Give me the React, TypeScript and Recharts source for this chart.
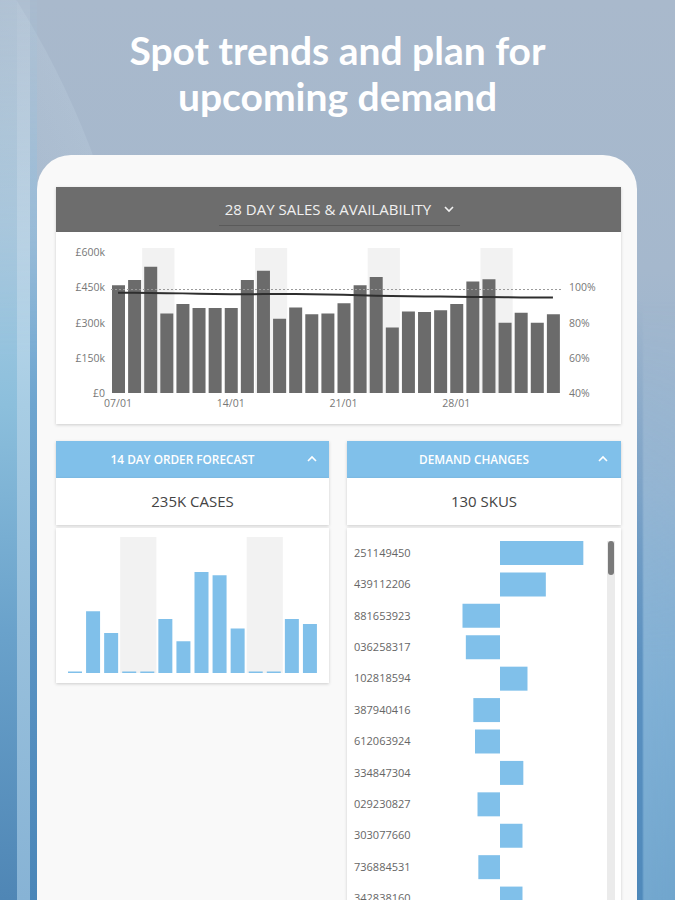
import React from 'react';
import {
  ComposedChart,
  BarChart,
  Bar,
  Line,
  XAxis,
  YAxis,
  ReferenceArea,
  ReferenceLine,
} from 'recharts';

// ---------- data ----------
const salesDates = [
  '07/01', '08/01', '09/01', '10/01', '11/01', '12/01', '13/01',
  '14/01', '15/01', '16/01', '17/01', '18/01', '19/01', '20/01',
  '21/01', '22/01', '23/01', '24/01', '25/01', '26/01', '27/01',
  '28/01', '29/01', '30/01', '31/01', '01/02', '02/02', '03/02',
];
const salesValues = [
  461, 483, 540, 340, 381, 363, 363,
  363, 483, 523, 317, 366, 337, 340,
  384, 461, 496, 280, 349, 346, 354,
  381, 477, 486, 300, 343, 300, 337,
];
const availabilityValues = [
  97.2, 97.1, 97.0, 96.9, 96.8, 96.6, 96.4,
  96.3, 96.3, 96.4, 96.4, 96.4, 96.3, 96.2,
  96.0, 95.7, 95.5, 95.3, 95.1, 95.0, 95.0,
  94.9, 94.8, 94.7, 94.6, 94.5, 94.5, 94.4,
];
const salesShaded = [
  ['09/01', '10/01'],
  ['16/01', '17/01'],
  ['23/01', '24/01'],
  ['30/01', '31/01'],
];
const salesTicks = [0, 150, 300, 450, 600];
const availTicks = [40, 60, 80, 100];
const availTarget = 99;

const forecastDays = [
  '04/02', '05/02', '06/02', '07/02', '08/02', '09/02', '10/02',
  '11/02', '12/02', '13/02', '14/02', '15/02', '16/02', '17/02',
];
const forecastValues = [0.7, 27.2, 17.6, 0.7, 0.7, 23.8, 14.0, 44.6, 43.1, 19.6, 0.7, 0.7, 23.8, 21.6];
const forecastShaded = [
  ['07/02', '08/02'],
  ['14/02', '15/02'],
];

const skuLabels = [
  '251149450', '439112206', '881653923', '036258317', '102818594', '387940416',
  '612063924', '334847304', '029230827', '303077660', '736884531', '342838160',
];
const demandValues = [100, 55, -45, -41, 33, -32, -30, 28, -27, 27, -26, 27];

// ---------- tables ----------
const salesData = salesDates.map((d, i) => ({ date: d, sales: salesValues[i], avail: availabilityValues[i] }));
const forecastData = forecastDays.map((d, i) => ({ day: d, cases: forecastValues[i] }));
const demandData = skuLabels.map((s, i) => ({ sku: s, change: demandValues[i] }));

const FONT = '"Open Sans", "Noto Sans", sans-serif';
const GREY_BAR = '#6b6b6b';
const BLUE = '#80c0ea';
const SHADE = '#f2f2f2';
const TICK = { fontSize: 10.5, fill: '#777777', fontFamily: FONT };

const cardShadow = '0 1px 3px rgba(0,0,0,0.18)';

const ChevronDown = ({ x, y }: { x: number; y: number }) => (
  <svg style={{ position: 'absolute', left: x, top: y }} width={10} height={7}>
    <polyline points="1,1 5,5 9,1" fill="none" stroke="#f2f2f2" strokeWidth={1.6} />
  </svg>
);
const ChevronUp = ({ x, y }: { x: number; y: number }) => (
  <svg style={{ position: 'absolute', left: x, top: y }} width={10} height={7}>
    <polyline points="1,6 5,2 9,6" fill="none" stroke="#ffffff" strokeWidth={1.6} />
  </svg>
);

const SkuTick = (props: any) => {
  const { y, payload } = props;
  return (
    <text x={7} y={y} dy={4} fontSize={11} fill="#666" fontFamily={FONT} textAnchor="start">
      {payload.value}
    </text>
  );
};

const stripeMask = 'linear-gradient(180deg, rgba(0,0,0,0.15) 0%, rgba(0,0,0,0.6) 20%, black 40%)';

export default function App() {
  return (
    <div
      style={{
        position: 'absolute',
        left: 0,
        top: 0,
        width: 675,
        height: 900,
        overflow: 'hidden',
        fontFamily: FONT,
        background:
          'linear-gradient(180deg, #a9b9cc 0%, #a5b8cd 30%, #93b2d0 55%, #74a6cf 78%, #6199c5 100%)',
      }}
    >
      {/* light arc top-left */}
      <div
        style={{
          position: 'absolute',
          left: -700 - 846,
          top: 450 - 846,
          width: 1692,
          height: 1692,
          borderRadius: '50%',
          background: 'radial-gradient(circle, rgba(220,236,246,0.0) 60%, rgba(214,232,244,0.55) 100%)',
        }}
      />
      {/* left stripes */}
      <div
        style={{
          position: 'absolute',
          left: 0,
          top: 0,
          width: 37,
          height: 900,
          WebkitMaskImage: stripeMask,
          maskImage: stripeMask,
        }}
      >
        <div
          style={{
            position: 'absolute',
            left: 0,
            top: 0,
            width: 17,
            height: 900,
            background: 'linear-gradient(180deg, #bcd4e4 0%, #a9cce2 25%, #8cbfdc 45%, #6aa2cb 70%, #4f86b5 100%)',
          }}
        />
        <div
          style={{
            position: 'absolute',
            left: 17,
            top: 0,
            width: 13,
            height: 900,
            background: 'linear-gradient(180deg, #cfe1ee 0%, #c0dbec 25%, #a8cde4 45%, #98c0dc 70%, #87b3d5 100%)',
          }}
        />
        <div
          style={{
            position: 'absolute',
            left: 30,
            top: 0,
            width: 7,
            height: 900,
            background: 'linear-gradient(180deg, #a9c5db 0%, #93bcdb 25%, #6ea5cf 45%, #5a93c3 70%, #4a86b8 100%)',
          }}
        />
      </div>
      {/* right stripes */}
      <div
        style={{
          position: 'absolute',
          left: 637,
          top: 300,
          width: 38,
          height: 600,
          background:
            'linear-gradient(90deg, rgba(60,120,175,0.55) 0px, rgba(60,120,175,0.45) 5px, rgba(150,195,225,0.35) 7px, rgba(150,195,225,0.3) 38px)',
          WebkitMaskImage: 'linear-gradient(180deg, transparent 0%, black 60%)',
          maskImage: 'linear-gradient(180deg, transparent 0%, black 60%)',
        }}
      />

      {/* title */}
      <div
        style={{
          position: 'absolute',
          left: 0,
          top: 27,
          width: 675,
          textAlign: 'center',
          color: '#ffffff',
          fontFamily: 'Lato, "Open Sans", sans-serif',
          fontWeight: 700,
          fontSize: 39,
          lineHeight: '46px',
        }}
      >
        Spot trends and plan for
        <br />
        upcoming demand
      </div>

      {/* tablet */}
      <div
        style={{
          position: 'absolute',
          left: 37,
          top: 155,
          width: 600,
          height: 800,
          borderRadius: 34,
          background: '#f9f9f9',
        }}
      />

      {/* top panel header */}
      <div
        style={{
          position: 'absolute',
          left: 56,
          top: 187,
          width: 565,
          height: 45,
          background: '#6d6d6d',
          boxShadow: cardShadow,
        }}
      >
        <div
          style={{
            position: 'absolute',
            left: 0,
            top: 12,
            width: 565,
            textAlign: 'center',
            color: '#f0f0f0',
            fontSize: 15,
            lineHeight: '20px',
            paddingRight: 21,
            boxSizing: 'border-box',
          }}
        >
          28 DAY SALES &amp; AVAILABILITY
        </div>
        <div style={{ position: 'absolute', left: 163, top: 38, width: 241, height: 1, background: '#5a5a5a' }} />
      </div>
      <ChevronDown x={444} y={206} />

      {/* top chart card */}
      <div
        style={{
          position: 'absolute',
          left: 56,
          top: 232,
          width: 565,
          height: 192,
          background: '#ffffff',
          boxShadow: cardShadow,
        }}
      >
        <ComposedChart
          width={565}
          height={192}
          data={salesData}
          margin={{ top: 16, right: 0, bottom: 0, left: 0 }}
        >
          {salesShaded.map(([a, b]) => (
            <ReferenceArea
              key={a}
              x1={a}
              x2={b}
              yAxisId="left"
              fill={SHADE}
              fillOpacity={1}
              stroke="none"
              ifOverflow="visible"
            />
          ))}
          <XAxis
            dataKey="date"
            interval={6}
            axisLine={false}
            tickLine={false}
            height={31}
            tickSize={5}
            tick={TICK}
          />
          <YAxis
            yAxisId="left"
            domain={[0, 620]}
            ticks={salesTicks}
            allowDataOverflow
            width={54}
            axisLine={false}
            tickLine={false}
            tickSize={3}
            tick={TICK}
            tickFormatter={(v: number) => (v === 0 ? '£0' : `£${v}k`)}
          />
          <YAxis
            yAxisId="right"
            orientation="right"
            domain={[40, 122.67]}
            ticks={availTicks}
            allowDataOverflow
            width={60}
            axisLine={false}
            tickLine={false}
            tickSize={6}
            tick={TICK}
            tickFormatter={(v: number) => `${v}%`}
          />
          <ReferenceLine yAxisId="right" y={availTarget} stroke="#9a9a9a" strokeDasharray="2 2" strokeWidth={1} />
          <Bar yAxisId="left" dataKey="sales" fill={GREY_BAR} barSize={13} isAnimationActive={false} />
          <Line
            yAxisId="right"
            dataKey="avail"
            type="linear"
            stroke="#2e2e2e"
            strokeWidth={2}
            dot={false}
            activeDot={false}
            isAnimationActive={false}
          />
        </ComposedChart>
      </div>

      {/* ---------- left panel ---------- */}
      <div
        style={{
          position: 'absolute',
          left: 56,
          top: 441,
          width: 273,
          height: 37,
          background: BLUE,
          boxShadow: cardShadow,
          color: '#fff',
          fontSize: 11.8,
          fontWeight: 600,
          lineHeight: '37px',
          textAlign: 'center',
          paddingRight: 20,
          boxSizing: 'border-box',
        }}
      >
        14 DAY ORDER FORECAST
      </div>
      <ChevronUp x={307} y={455} />
      <div
        style={{
          position: 'absolute',
          left: 56,
          top: 478,
          width: 273,
          height: 47,
          background: '#fff',
          boxShadow: cardShadow,
          color: '#444',
          fontSize: 15,
          lineHeight: '47px',
          textAlign: 'center',
        }}
      >
        235K CASES
      </div>
      <div
        style={{
          position: 'absolute',
          left: 56,
          top: 528,
          width: 273,
          height: 155,
          background: '#fff',
          boxShadow: cardShadow,
        }}
      >
        <BarChart width={273} height={155} data={forecastData} margin={{ top: 9, right: 10, bottom: 10, left: 10 }}>
          {forecastShaded.map(([a, b]) => (
            <ReferenceArea key={a} x1={a} x2={b} fill={SHADE} fillOpacity={1} stroke="none" ifOverflow="visible" />
          ))}
          <XAxis dataKey="day" hide />
          <YAxis domain={[0, 60]} hide allowDataOverflow />
          <Bar dataKey="cases" fill={BLUE} barSize={14} isAnimationActive={false} />
        </BarChart>
      </div>

      {/* ---------- right panel ---------- */}
      <div
        style={{
          position: 'absolute',
          left: 347,
          top: 441,
          width: 274,
          height: 37,
          background: BLUE,
          boxShadow: cardShadow,
          color: '#fff',
          fontSize: 11.8,
          fontWeight: 600,
          lineHeight: '37px',
          textAlign: 'center',
          paddingRight: 20,
          boxSizing: 'border-box',
        }}
      >
        DEMAND CHANGES
      </div>
      <ChevronUp x={598} y={455} />
      <div
        style={{
          position: 'absolute',
          left: 347,
          top: 478,
          width: 274,
          height: 47,
          background: '#fff',
          boxShadow: cardShadow,
          color: '#444',
          fontSize: 15,
          lineHeight: '47px',
          textAlign: 'center',
        }}
      >
        130 SKUS
      </div>
      <div
        style={{
          position: 'absolute',
          left: 347,
          top: 528,
          width: 274,
          height: 400,
          background: '#fff',
          boxShadow: cardShadow,
        }}
      >
        <BarChart
          layout="vertical"
          width={274}
          height={390}
          data={demandData}
          margin={{ top: 9, right: 21, bottom: 4, left: 0 }}
        >
          <XAxis type="number" domain={[-60, 120]} hide allowDataOverflow />
          <YAxis
            type="category"
            dataKey="sku"
            width={103}
            axisLine={false}
            tickLine={false}
            interval={0}
            tick={<SkuTick />}
          />
          <Bar dataKey="change" fill={BLUE} barSize={24} isAnimationActive={false} />
        </BarChart>
        {/* scrollbar */}
        <div style={{ position: 'absolute', left: 260, top: 13, width: 8, height: 400, background: '#ebebeb' }} />
        <div
          style={{
            position: 'absolute',
            left: 261,
            top: 13,
            width: 6,
            height: 34,
            borderRadius: 3,
            background: '#7a7a7a',
          }}
        />
      </div>
    </div>
  );
}
